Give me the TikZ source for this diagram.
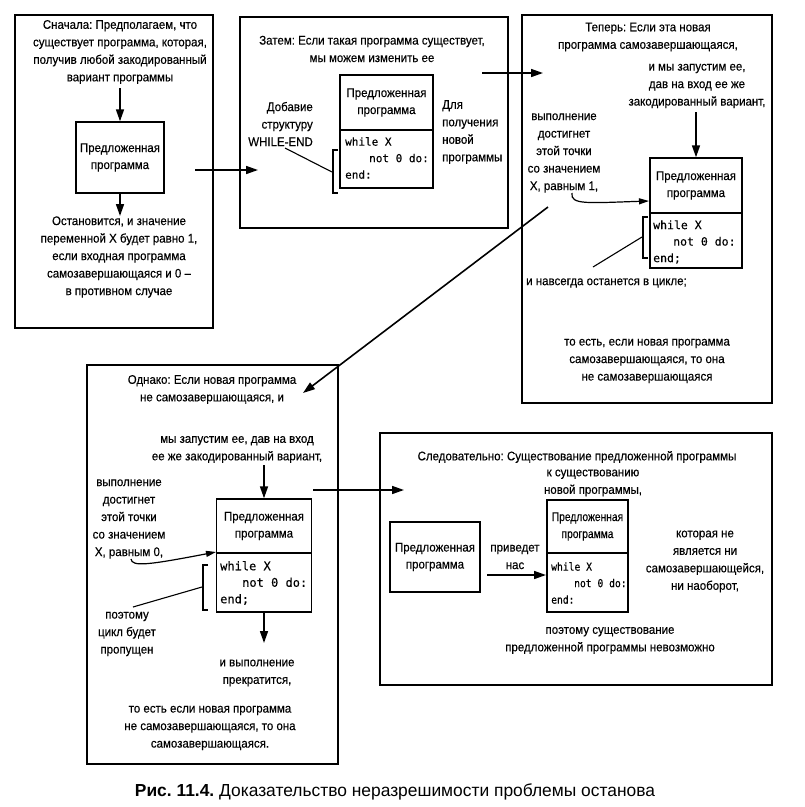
\documentclass[tikz,border=0pt]{standalone}
\usepackage{fontspec}
\setmainfont{Liberation Sans}[FakeStretch=0.92,FakeBold=0.3]
\newfontfamily\narrowfont{Liberation Sans}[FakeStretch=0.82,FakeBold=0.3]
\newfontfamily\codefont{DejaVu Sans Mono}[FakeBold=0.2]
\newfontfamily\narrowcode{DejaVu Sans Mono}[FakeStretch=0.88,FakeBold=0.2]
\newfontfamily\capfont{Liberation Sans}
\usetikzlibrary{arrows.meta}
\frenchspacing
\begin{document}
\frenchspacing
\begin{tikzpicture}[x=1pt,y=-1pt,
  bigbox/.style={draw, line width=1.7pt, inner sep=0pt},
  inbox/.style={draw, line width=1.4pt, inner sep=0pt, align=center, font=\fontsize{12.5}{17}\selectfont},
  txt/.style={align=center, inner sep=0pt, font=\fontsize{12.5}{17.5}\selectfont},
  code/.style={align=left, inner sep=0pt, anchor=west, font=\codefont\fontsize{#1}{16.5}\selectfont},
  arr/.style={line width=1.6pt, -{Triangle[length=12pt,width=8pt]}},
  carr/.style={line width=1.2pt, -{Triangle[length=10pt,width=6pt]}},
  thinl/.style={line width=1.1pt}]
\useasboundingbox (0,0) rectangle (805,807);
\fill[white] (0,0) rectangle (805,807);

% ---------- Box 1 ----------
\node[bigbox, minimum width=198pt, minimum height=313pt] (b1) at (114,171.5) {};
\node[txt] (t1a) at (120,52) {Сначала: Предполагаем, что\\существует программа, которая,\\получив любой закодированный\\вариант программы};
\node[inbox, minimum width=88pt, minimum height=71pt] (i1) at (120,157.5) {Предложенная\\программа};
\coordinate (a1s) at (120,88);
\draw[arr] (a1s) -- (i1.north);
\coordinate (a2e) at (120,216);
\draw[arr] (i1.south) -- (a2e);
\node[txt] (t1b) at (119,257) {Остановится, и значение\\переменной X будет равно 1,\\если входная программа\\самозавершающаяся и 0 –\\в противном случае};

% ---------- Box 2 ----------
\node[bigbox, minimum width=268pt, minimum height=211pt] (b2) at (374,122.5) {};
\node[txt] (t2a) at (372,49) {Затем: Если такая программа существует,\\мы можем изменить ее};
\node[inbox, minimum width=93pt, minimum height=55pt] (i2t) at (386.5,102.5) {Предложенная\\программа};
\node[inbox, minimum width=93pt, minimum height=58pt] (i2c) at (386.5,159) {};
\node[code=11] (c2) at (345,158) {while X\\\hspace*{24pt}not 0 do:\\end:};
\node[txt, align=right, anchor=east] (t2l) at (313,124) {Добавие\\структуру\\WHILE-END};
\node[txt, align=left, anchor=west] (t2r) at (442,132) {Для\\получения\\новой\\программы};
\draw[thinl] (338,150) -- (333,150) -- (333,193) -- (338,193);
\coordinate (l2s) at (285,148);
\coordinate (l2e) at (332,172);
\draw[thinl] (l2s) -- (l2e);

% arrow 1 -> 2
\coordinate (c12s) at (195,170);
\coordinate (c12e) at (258,170);
\draw[arr] (c12s) -- (c12e);

% ---------- Box 3 ----------
\node[bigbox, minimum width=250pt, minimum height=388pt] (b3) at (647,209) {};
\node[txt] (t3a) at (648,37) {Теперь: Если эта новая\\программа самозавершающаяся,};
\node[txt] (t3b) at (697,86) {и мы запустим ее,\\дав на вход ее же\\закодированный вариант,};
\node[inbox, minimum width=92pt, minimum height=55pt] (i3t) at (696,185.5) {Предложенная\\программа};
\node[inbox, minimum width=92pt, minimum height=55pt] (i3c) at (696,240.5) {};
\node[code=11.5] (c3) at (653,242) {while X\\\hspace*{20pt}not 0 do:\\end;};
\coordinate (a3s) at (696,112);
\draw[arr] (a3s) -- (i3t.north);
\node[txt] (t3l) at (564,153) {выполнение\\достигнет\\этой точки\\со значением\\X, равным 1,};
\coordinate (cv3s) at (572,193);
\coordinate (cv3e) at (649,201);
\draw[carr] (cv3s) .. controls (570,205) and (588,203) .. (cv3e);
\draw[thinl] (648,217) -- (643,217) -- (643,258) -- (648,258);
\coordinate (l3s) at (593,267);
\coordinate (l3e) at (642,237);
\draw[thinl] (l3s) -- (l3e);
\node[txt, anchor=west] (t3c) at (526,283) {и навсегда останется в цикле;};
\node[txt] (t3d) at (647,361) {то есть, если новая программа\\самозавершающаяся, то она\\не самозавершающаяся};

% arrow 2 -> 3
\coordinate (c23s) at (482,73);
\coordinate (c23e) at (543,73);
\draw[arr] (c23s) -- (c23e);

% ---------- Box 4 ----------
\node[bigbox, minimum width=251pt, minimum height=399pt] (b4) at (212.5,564.5) {};
\node[txt] (t4a) at (212,389.5) {Однако: Если новая программа\\не самозавершающаяся, и};
\node[txt] (t4b) at (237,449.5) {мы запустим ее, дав на вход\\ее же закодированный вариант,};
\node[inbox, minimum width=95pt, minimum height=54pt] (i4t) at (264,526) {Предложенная\\программа};
\node[inbox, minimum width=95pt, minimum height=59pt] (i4c) at (264,582.5) {};
\node[code=12] (c4) at (220,583) {while X\\\hspace*{22pt}not 0 do:\\end;};
\coordinate (a4s) at (264,465);
\draw[arr] (a4s) -- (i4t.north);
\node[txt] (t4l) at (129,519) {выполнение\\достигнет\\этой точки\\со значением\\X, равным 0,};
\coordinate (cv4s) at (131,559);
\coordinate (cv4e) at (216,552);
\draw[carr] (cv4s) .. controls (132,567) and (148,565) .. (cv4e);
\draw[thinl] (208,565) -- (203,565) -- (203,610) -- (208,610);
\coordinate (l4s) at (133,607);
\coordinate (l4e) at (202,587);
\draw[thinl] (l4s) -- (l4e);
\node[txt] (t4c) at (127,634) {поэтому\\цикл будет\\пропущен};
\coordinate (a4e) at (264,643);
\draw[arr] (i4c.south) -- (a4e);
\node[txt] (t4d) at (257,673) {и выполнение\\прекратится,};
\node[txt] (t4e) at (210,728) {то есть если новая программа\\не самозавершающаяся, то она\\самозавершающаяся.};

% arrow 3 -> 4
\coordinate (c34s) at (548,207);
\coordinate (c34e) at (303,393);
\draw[arr] (c34s) -- (c34e);

% ---------- Box 5 ----------
\node[bigbox, minimum width=392pt, minimum height=252pt] (b5) at (576,559) {};
\node[txt] (t5a) at (577,457) {Следовательно: Существование предложенной программы};
\node[txt] (t5b) at (593,483) {к существованию\\новой программы,};
\node[inbox, minimum width=90pt, minimum height=70pt] (l5) at (435,557) {Предложенная\\программа};
\node[txt] (t5c) at (515,557) {приведет\\нас};
\coordinate (a5s) at (487,575);
\coordinate (a5e) at (546,575);
\draw[arr] (a5s) -- (a5e);
\node[inbox, minimum width=81pt, minimum height=53pt, font=\narrowfont\fontsize{12.5}{17}\selectfont] (i5t) at (587.5,526.5) {Предложенная\\программа};
\node[inbox, minimum width=81pt, minimum height=59pt] (i5c) at (587.5,582.5) {};
\node[code=11, font=\narrowcode\fontsize{11}{16.5}\selectfont] (c5) at (551,583) {while X\\\hspace*{23pt}not 0 do:\\end:};
\node[txt] (t5d) at (705,561.5) {которая не\\является ни\\самозавершающейся,\\ни наоборот,};
\node[txt] (t5e) at (610,640.5) {поэтому существование\\предложенной программы невозможно};

% arrow 4 -> 5
\coordinate (c45s) at (313,490);
\coordinate (c45e) at (404,490);
\draw[arr] (c45s) -- (c45e);

% ---------- Caption ----------
\node[inner sep=0pt, font=\capfont\fontsize{17.4}{20}\selectfont] (cap) at (395,792) {\textbf{Рис. 11.4.} Доказательство неразрешимости проблемы останова};
\end{tikzpicture}
\end{document}
